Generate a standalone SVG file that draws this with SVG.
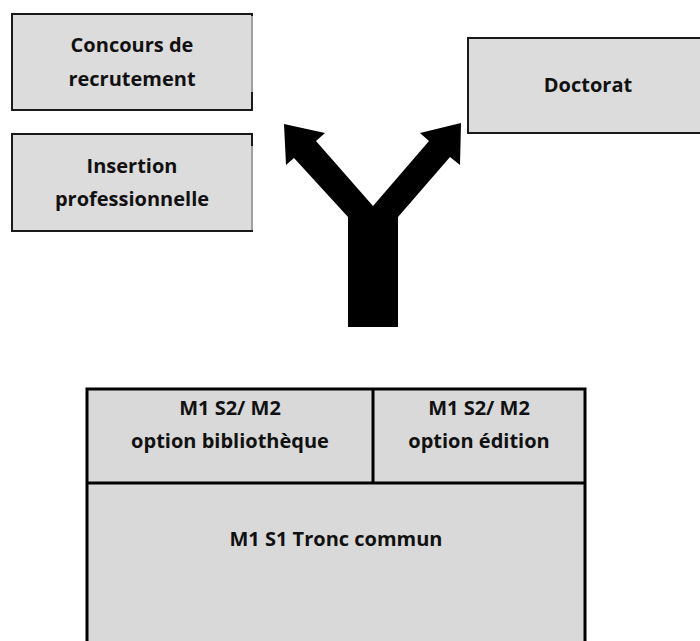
<svg xmlns="http://www.w3.org/2000/svg" width="700" height="641" viewBox="0 0 700 641">
<style>
.box{fill:#dcdcdc;stroke:#1a1a1a;stroke-width:2}
.redge{stroke:#a0a0a0;stroke-width:2}
.cell{fill:#d9d9d9;stroke:#000;stroke-width:3}
.t{font-family:"Open Sans","Liberation Sans",sans-serif;font-weight:bold;font-size:20px;fill:#111;text-anchor:middle}
</style>
<rect width="700" height="641" fill="#fff"/>
<g id="concours">
<rect class="box" x="12" y="14" width="240" height="96"/>
<line class="redge" x1="252" y1="16" x2="252" y2="92"/>
<text class="t" x="132" y="52">Concours de</text>
<text class="t" x="132" y="86">recrutement</text>
</g>
<g id="insertion">
<rect class="box" x="12" y="134" width="240" height="97"/>
<line class="redge" x1="252" y1="146" x2="252" y2="230"/>
<text class="t" x="132" y="173">Insertion</text>
<text class="t" x="132" y="206">professionnelle</text>
</g>
<g id="doctorat">
<rect class="box" x="468" y="38" width="240" height="95"/>
<text class="t" x="588" y="92">Doctorat</text>
</g>
<g id="connectors">
<polygon fill="#000" points="348,327 348,217 294,158 286,165 284,124 325,133 316,141 373,206 429,141 420,133 461,123 460,165 450,157 398,217 398,327"/>
</g>
<g id="table">
<rect class="cell" x="87" y="389" width="498" height="262"/>
<line stroke="#000" stroke-width="3" x1="87" y1="483" x2="585" y2="483"/>
<line stroke="#000" stroke-width="3" x1="373" y1="389" x2="373" y2="483"/>
</g>
<g id="option-bibliotheque">
<text class="t" x="230" y="415">M1 S2/ M2</text>
<text class="t" x="230" y="448">option bibliothèque</text>
</g>
<g id="option-edition">
<text class="t" x="479" y="415">M1 S2/ M2</text>
<text class="t" x="479" y="448">option édition</text>
</g>
<g id="tronc-commun">
<text class="t" x="336" y="546">M1 S1 Tronc commun</text>
</g>
</svg>
